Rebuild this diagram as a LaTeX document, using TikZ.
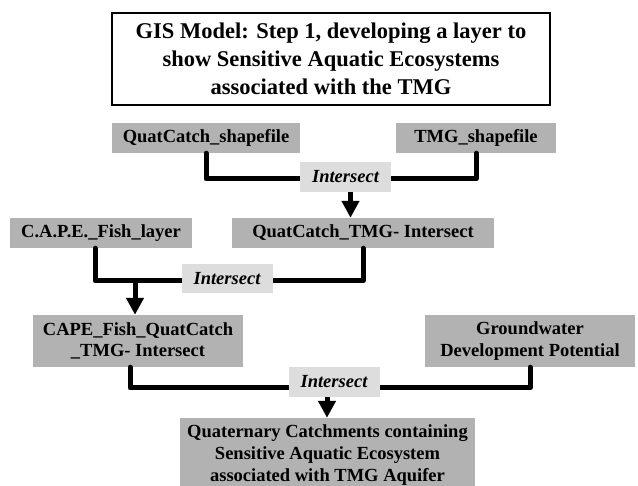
\documentclass[tikz,border=0pt]{standalone}
\usepackage{fontspec}
\setmainfont{Liberation Serif}
\usetikzlibrary{arrows.meta}
\definecolor{boxgray}{RGB}{178,178,178}
\definecolor{toolgray}{RGB}{221,221,221}

\begin{document}
\begin{tikzpicture}[x=1pt,y=-1pt]
\tikzset{every node/.style={align=center,inner sep=0pt,font=\bfseries\fontsize{18.5}{21.7}\selectfont}}
\tikzset{layer/.style={fill=boxgray}}
\tikzset{tool/.style={fill=toolgray,minimum width=91pt,minimum height=30pt,font=\bfseries\itshape\fontsize{18.5}{21.7}\selectfont}}
\tikzset{link/.style={line width=5pt,line cap=round,line join=round}}
\tikzset{flow/.style={line width=5pt,-{Triangle[width=17pt,length=17pt]}}}
\useasboundingbox (0,0) rectangle (638,486);
\node[draw,line width=1.5pt,minimum width=438pt,minimum height=92pt,font=\bfseries\fontsize{22.5}{27.7}\selectfont] (title) at (331,59) {GIS Model: Step 1, developing a layer to\\show Sensitive Aquatic Ecosystems\\associated with the TMG};
\node[layer,minimum width=188pt,minimum height=30pt] (quat) at (206,138) {QuatCatch\_shapefile};
\node[layer,minimum width=160pt,minimum height=30pt] (tmg) at (476,138) {TMG\_shapefile};
\node[layer,minimum width=182pt,minimum height=30pt] (cape) at (101,233) {C.A.P.E.\_Fish\_layer};
\node[layer,minimum width=262pt,minimum height=30pt] (quattmg) at (363,233) {QuatCatch\_TMG- Intersect};
\node[layer,minimum width=210pt,minimum height=52pt] (capequat) at (138,341) {CAPE\_Fish\_QuatCatch\\\_TMG- Intersect};
\node[layer,minimum width=210pt,minimum height=52pt] (ground) at (530,341) {Groundwater\\Development Potential};
\node[layer,minimum width=295pt,minimum height=74pt] (result) at (327.5,455) {Quaternary Catchments containing\\Sensitive Aquatic Ecosystem\\associated with TMG Aquifer};
\coordinate (j1) at (300,179);
\coordinate (j2) at (135,281);
\coordinate (j3) at (300,388);
\draw[link] (quat.south) |- (j1) -| (tmg.south);
\draw[link] ([xshift=-6pt]cape.south) |- (j2) -| (quattmg.south);
\draw[link] ([xshift=-8pt]capequat.south) |- (j3) -| (ground.south);
\node[tool] (int1) at (345.5,177) {Intersect};
\node[tool,minimum height=29pt] (int2) at (227,278.5) {Intersect};
\node[tool] (int3) at (334,382) {Intersect};
\draw[flow] ([xshift=5pt]int1.south) -- ([xshift=5pt]int1.south |- quattmg.north);
\draw[flow] (j2) -- (j2 |- capequat.north);
\draw[flow] ([xshift=-7pt]int3.south) -- ([xshift=-7pt]int3.south |- result.north);
\end{tikzpicture}
\end{document}
